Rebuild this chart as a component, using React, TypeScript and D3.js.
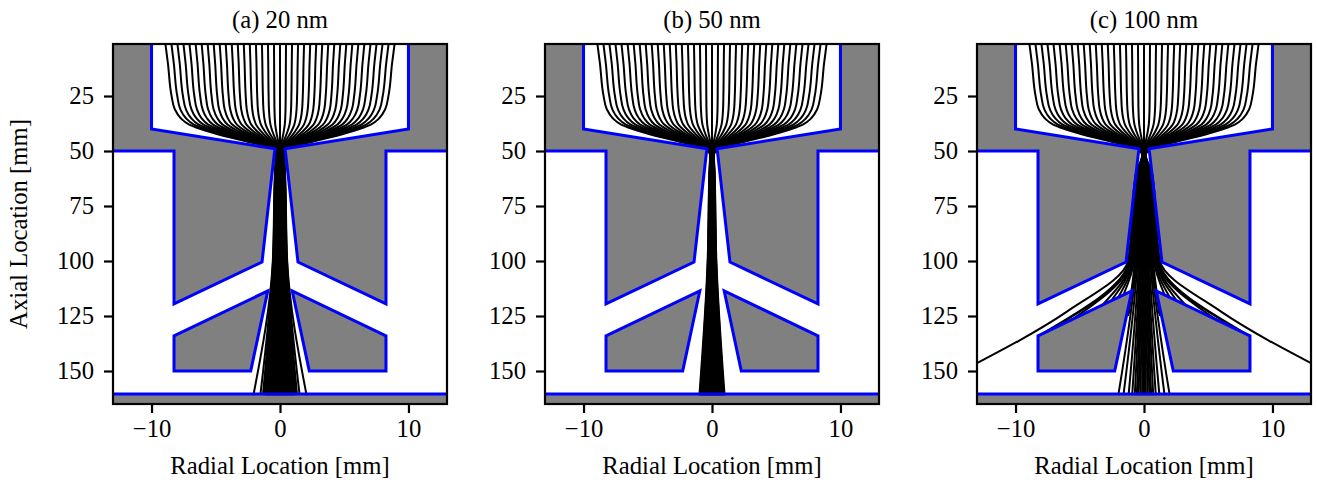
import { useEffect, useRef } from 'react';
import * as d3 from 'd3';

const titles = ['(a) 20 nm', '(b) 50 nm', '(c) 100 nm'];
const xTicks = [-10, 0, 10];
const yTicks = [25, 50, 75, 100, 125, 150];

// electrode outlines, left side [mm], mirrored for the right side
const upperR = [-14, -10, -10, -0.4, -1.4, -8.25, -8.25, -14];
const upperZ = [-5, -5, 40, 49, 100.5, 119.5, 50, 50];
const lowerR = [-8.25, -0.95, -2.28, -8.25];
const lowerZ = [134, 113.6, 150, 150];
const wallR = [-14, 14, 14, -14];
const wallZ = [160.5, 160.5, 172, 172];

// half of the beam: ray 0 is on axis, ray 19 is the outermost
const startR = [0, 0.47, 0.94, 1.41, 1.88, 2.36, 2.83, 3.3, 3.77, 4.24, 4.71, 5.18, 5.65, 6.12, 6.59, 7.07, 7.54, 8.01, 8.48, 8.95];
const inletZ = [0, 10, 25, 31, 35, 38, 41, 44, 47, 49.5];
const inletScale = [1, 0.975, 0.943, 0.915, 0.865, 0.79, 0.63, 0.42, 0.18, 0.035];
const neckZ = [52, 60, 100];

const neckScaleA = [0.58, 0.7, 1];
const waistA = [0, 0.03, 0.06, 0.09, 0.12, 0.15, 0.18, 0.21, 0.25, 0.28, 0.31, 0.34, 0.37, 0.4, 0.43, 0.46, 0.49, 0.52, 0.54, 0.56];
const endRA = [0, 0.08, 0.16, 0.24, 0.31, 0.39, 0.47, 0.55, 0.63, 0.7, 0.78, 0.86, 0.94, 1.02, 1.1, 1.17, 1.25, 1.33, 1.53, 2.07];
const endZA = Array<number>(20).fill(161);

const neckScaleB = [0.45, 0.6, 1];
const waistB = [0, 0.02, 0.04, 0.05, 0.07, 0.09, 0.11, 0.13, 0.14, 0.16, 0.18, 0.2, 0.21, 0.23, 0.25, 0.27, 0.29, 0.3, 0.32, 0.34];
const endRB = [0, 0.05, 0.1, 0.15, 0.21, 0.26, 0.31, 0.36, 0.41, 0.46, 0.52, 0.57, 0.62, 0.67, 0.72, 0.77, 0.83, 0.88, 0.93, 0.98];
const endZB = Array<number>(20).fill(161);

const neckScaleC = [0.12, 0.5, 1];
const waistC = [0, 0.05, 0.1, 0.15, 0.2, 0.26, 0.32, 0.4, 0.5, 0.58, 0.64, 0.7, 0.77, 0.83, 0.9, 0.96, 1.02, 1.09, 1.15, 1.25];
const endRC = [0, 0.14, 0.28, 0.42, 0.56, 0.72, 0.92, 1.2, 1.6, 2.0, 1.2, 1.25, 1.6, 2.0, 2.6, 3.3, 5.8, 7.3, 8.0, 14];
const endZC = [161, 161, 161, 161, 161, 161, 161, 161, 161, 161, 124, 125, 115.4, 116.5, 118.4, 120.4, 127.4, 131.3, 133.3, 149.5];
// the outermost ray at 100 nm bends on its way to the outer wall
const bendR = 6;
const bendZ = 123;

const panels = [
  { left: 113, neckScale: neckScaleA, waist: waistA, endR: endRA, endZ: endZA },
  { left: 545, neckScale: neckScaleB, waist: waistB, endR: endRB, endZ: endZB },
  { left: 977, neckScale: neckScaleC, waist: waistC, endR: endRC, endZ: endZC },
];

const font = '"Liberation Serif", "Times New Roman", serif';
const fontSize = '24.7px';
const panelW = 334;
const panelH = 360;
const top = 44;

export default function App() {
  const svgRef = useRef<SVGSVGElement>(null);

  useEffect(() => {
    if (!svgRef.current) return;
    const svg = d3.select(svgRef.current);
    svg.selectAll('*').remove();

    const x = d3.scaleLinear().domain([-13, 13]).range([0, panelW]);
    const y = d3.scaleLinear().domain([1.36, 165]).range([0, panelH]);
    const line = d3.line<[number, number]>().x(d => x(d[0])).y(d => y(d[1]));
    const rayLine = d3.line<[number, number]>().x(d => x(d[0])).y(d => y(d[1])).curve(d3.curveMonotoneY);
    const outline = (rs: number[], zs: number[], side: number) =>
      line(rs.map((r, i) => [r * side, zs[i]] as [number, number])) + 'Z';

    panels.forEach((p, pi) => {
      const g = svg.append('g').attr('transform', `translate(${p.left}, ${top})`);

      svg.append('clipPath').attr('id', `clip${pi}`)
        .append('rect').attr('width', panelW).attr('height', panelH);
      const plot = g.append('g').attr('clip-path', `url(#clip${pi})`);

      const shapes = [
        outline(upperR, upperZ, 1), outline(upperR, upperZ, -1),
        outline(lowerR, lowerZ, 1), outline(lowerR, lowerZ, -1),
        outline(wallR, wallZ, 1),
      ];

      // Electrode fill
      shapes.forEach(d => plot.append('path').attr('d', d).attr('fill', '#808080'));

      // Rays
      [1, -1].forEach(side => {
        startR.forEach((r0, i) => {
          if (i === 0 && side < 0) return;
          const pts: [number, number][] = inletZ.map((z, k) => [side * r0 * inletScale[k], z]);
          neckZ.forEach((z, k) => pts.push([side * p.waist[i] * p.neckScale[k], z]));
          if (pi === 2 && i === 19) pts.push([side * bendR, bendZ]);
          pts.push([side * p.endR[i], p.endZ[i]]);
          plot.append('path')
            .attr('d', rayLine(pts))
            .attr('fill', 'none')
            .attr('stroke', '#000')
            .attr('stroke-width', 2);
        });
      });

      // Electrode edges
      shapes.forEach(d => plot.append('path')
        .attr('d', d)
        .attr('fill', 'none')
        .attr('stroke', '#0000ff')
        .attr('stroke-width', 3)
        .attr('stroke-linejoin', 'miter'));

      // Axes
      const xAxis = g.append('g')
        .attr('transform', `translate(0, ${panelH})`)
        .call(d3.axisBottom(x).tickValues(xTicks).tickSize(9).tickPadding(6).tickSizeOuter(0));
      const yAxis = g.append('g')
        .call(d3.axisLeft(y).tickValues(yTicks).tickSize(9).tickPadding(10).tickSizeOuter(0));
      [xAxis, yAxis].forEach(a => {
        a.select('.domain').remove();
        a.selectAll('line').attr('stroke', '#000').attr('stroke-width', 2.2);
        a.selectAll('text').attr('fill', '#000').style('font-family', font).style('font-size', fontSize);
      });

      g.append('rect')
        .attr('width', panelW)
        .attr('height', panelH)
        .attr('fill', 'none')
        .attr('stroke', '#000')
        .attr('stroke-width', 2.2);

      g.append('text')
        .attr('x', panelW / 2)
        .attr('y', -16)
        .attr('text-anchor', 'middle')
        .style('font-family', font)
        .style('font-size', fontSize)
        .text(titles[pi]);

      g.append('text')
        .attr('x', panelW / 2)
        .attr('y', 430)
        .attr('text-anchor', 'middle')
        .style('font-family', font)
        .style('font-size', fontSize)
        .text('Radial Location [mm]');
    });

    svg.append('text')
      .attr('transform', 'translate(27, 224) rotate(-90)')
      .attr('text-anchor', 'middle')
      .style('font-family', font)
      .style('font-size', fontSize)
      .text('Axial Location [mm]');
  }, []);

  return (
    <svg
      ref={svgRef}
      width={1317}
      height={483}
      style={{ position: 'absolute', left: 0, top: 0, background: '#fff' }}
    />
  );
}
